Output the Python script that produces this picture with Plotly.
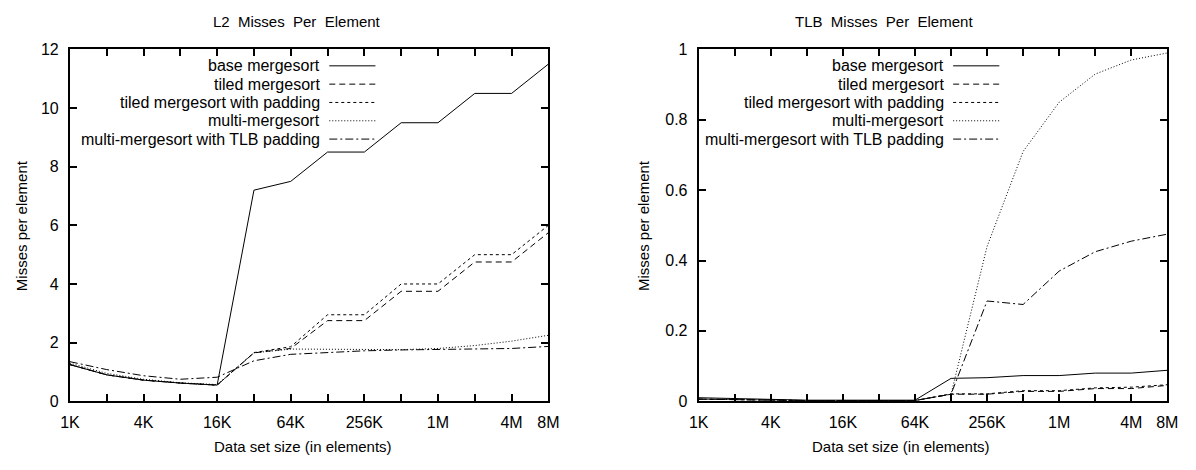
import math
import plotly.graph_objects as go

W, H = 1196, 470

# ---------------- data ----------------
sizes = [1024 * 2 ** k for k in range(14)]          # 1K .. 8M
size_labels = ["1K", "", "4K", "", "16K", "", "64K", "", "256K", "", "1M", "", "4M", "8M"]

series_names = ["base mergesort", "tiled mergesort", "tiled mergesort with padding",
                "multi-mergesort", "multi-mergesort with TLB padding"]

l2_base = [1.25, 0.90, 0.72, 0.62, 0.55, 7.20, 7.50, 8.50, 8.50, 9.50, 9.50, 10.50, 10.50, 11.50]
l2_tiled = [1.25, 0.90, 0.72, 0.62, 0.55, 1.65, 1.80, 2.75, 2.75, 3.75, 3.75, 4.75, 4.75, 5.75]
l2_tiled_pad = [1.25, 0.90, 0.72, 0.62, 0.55, 1.66, 1.86, 2.95, 2.95, 4.00, 4.00, 5.00, 5.00, 6.00]
l2_multi = [1.30, 0.95, 0.75, 0.63, 0.57, 1.65, 1.78, 1.77, 1.76, 1.76, 1.80, 1.90, 2.05, 2.25]
l2_multi_tlb = [1.35, 1.08, 0.87, 0.75, 0.82, 1.38, 1.60, 1.67, 1.72, 1.75, 1.77, 1.77, 1.80, 1.87]

tlb_base = [0.010, 0.007, 0.005, 0.003, 0.003, 0.003, 0.003, 0.065, 0.067, 0.073, 0.073, 0.080, 0.080, 0.088]
tlb_tiled = [0.006, 0.004, 0.003, 0.002, 0.002, 0.002, 0.002, 0.020, 0.020, 0.028, 0.028, 0.036, 0.036, 0.045]
tlb_tiled_pad = [0.006, 0.004, 0.003, 0.002, 0.002, 0.002, 0.002, 0.021, 0.021, 0.030, 0.030, 0.038, 0.040, 0.047]
tlb_multi = [0.006, 0.004, 0.003, 0.002, 0.002, 0.002, 0.002, 0.020, 0.440, 0.710, 0.850, 0.930, 0.970, 0.990]
tlb_multi_tlb = [0.006, 0.004, 0.003, 0.002, 0.002, 0.002, 0.002, 0.020, 0.285, 0.275, 0.370, 0.425, 0.455, 0.475]

l2_series = [l2_base, l2_tiled, l2_tiled_pad, l2_multi, l2_multi_tlb]
tlb_series = [tlb_base, tlb_tiled, tlb_tiled_pad, tlb_multi, tlb_multi_tlb]

# ---------------- styles ----------------
dashes = ["solid", "6px,4px", "3px,3px", "1px,2px", "8px,3px,2px,3px"]
FONT = "Liberation Sans, Arial, Helvetica, sans-serif"
FS = 16

# pixel geometry
L_X0, L_X1 = 61, 548
R_X0, R_X1 = 701, 1178
Y_TOP, Y_BOT = 43, 408

def px(x):
    return x / W

def py(y):
    return 1 - y / H

fig = go.Figure()

for vals, name, d in zip(l2_series, series_names, dashes):
    fig.add_trace(go.Scatter(x=sizes, y=vals, mode="lines", name=name,
                             line=dict(color="black", width=1, dash=d),
                             xaxis="x", yaxis="y", showlegend=False))
for vals, name, d in zip(tlb_series, series_names, dashes):
    fig.add_trace(go.Scatter(x=sizes, y=vals, mode="lines", name=name,
                             line=dict(color="black", width=1, dash=d),
                             xaxis="x2", yaxis="y2", showlegend=False))

xrange = [math.log10(sizes[0]), math.log10(sizes[-1])]

def xaxis_cfg(domain, anchor):
    return dict(domain=domain, anchor=anchor, type="log", range=xrange,
                tickvals=sizes, ticktext=size_labels, ticks="inside", ticklen=7,
                tickwidth=1.5, tickcolor="black", showline=True, linecolor="black",
                linewidth=2, mirror="ticks", showgrid=False, zeroline=False,
                tickfont=dict(family=FONT, size=FS, color="black"),
                ticklabelstandoff=6)

def yaxis_cfg(domain, anchor, rng, dtick):
    return dict(domain=domain, anchor=anchor, range=rng, dtick=dtick, tick0=0,
                ticks="inside", ticklen=7, tickwidth=1.5, tickcolor="black",
                showline=True, linecolor="black", linewidth=2, mirror="ticks",
                showgrid=False, zeroline=False,
                tickfont=dict(family=FONT, size=FS, color="black"),
                ticklabelstandoff=6)

ydom = [py(Y_BOT), py(Y_TOP)]
fig.update_layout(
    width=W, height=H, margin=dict(l=0, r=0, t=0, b=0),
    paper_bgcolor="white", plot_bgcolor="white",
    font=dict(family=FONT, size=FS, color="black"),
    xaxis=xaxis_cfg([px(L_X0), px(L_X1)], "y"),
    yaxis=yaxis_cfg(ydom, "x", [0, 12], 2),
    xaxis2=xaxis_cfg([px(R_X0), px(R_X1)], "y2"),
    yaxis2=yaxis_cfg(ydom, "x2", [0, 1], 0.2),
    showlegend=False,
)

annotations = []
shapes = []
# titles
for text, cx in [("L2  Misses  Per  Element", (L_X0 + L_X1) / 2 - 12),
                 ("TLB  Misses  Per  Element", (R_X0 + R_X1) / 2 - 50)]:
    annotations.append(dict(text=text, x=px(cx), y=py(14), xref="paper", yref="paper",
                            xanchor="center", yanchor="middle", showarrow=False,
                            font=dict(family=FONT, size=15, color="black")))
# axis titles
for cx in [(L_X0 + L_X1) / 2 - 6, (R_X0 + R_X1) / 2 - 33]:
    annotations.append(dict(text="Data set size (in elements)", x=px(cx), y=py(455),
                            xref="paper", yref="paper", xanchor="center", yanchor="middle",
                            showarrow=False, font=dict(family=FONT, size=15, color="black")))
for cx in [12, 645]:
    annotations.append(dict(text="Misses per element", x=px(cx), y=py((Y_TOP + Y_BOT) / 2),
                            xref="paper", yref="paper", xanchor="center", yanchor="middle",
                            textangle=-90, showarrow=False,
                            font=dict(family=FONT, size=15, color="black")))

# keys (gnuplot style: text right-aligned, sample to the right)
rows = [60, 79, 98, 117, 136]
for text_end, s0, s1 in [(318, 325, 372), (953, 960, 1007)]:
    for name, d, ry in zip(series_names, dashes, rows):
        annotations.append(dict(text=name, x=px(text_end), y=py(ry), xref="paper", yref="paper",
                                xanchor="right", yanchor="middle", showarrow=False,
                                font=dict(family=FONT, size=16, color="black")))
        shapes.append(dict(type="line", xref="paper", yref="paper",
                           x0=px(s0), x1=px(s1), y0=py(ry), y1=py(ry),
                           line=dict(color="black", width=1, dash=d)))

fig.update_layout(annotations=annotations, shapes=shapes)
fig.write_html("out.html")
